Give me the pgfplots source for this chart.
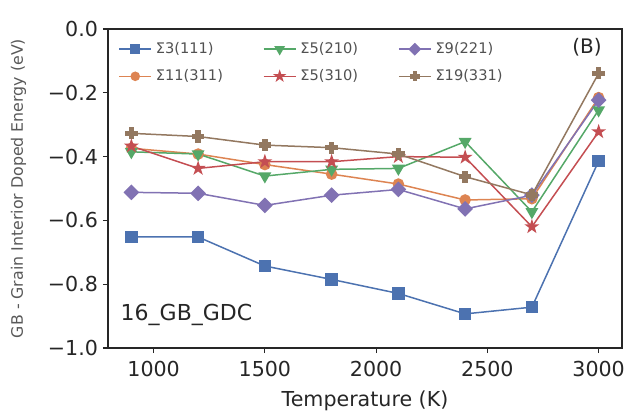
\documentclass[border=0pt]{standalone}
\usepackage{fontspec}
\setmainfont{DejaVu Sans}
\usepackage{pgfplots}
\pgfplotsset{compat=1.18}
\definecolor{cblue}{HTML}{4C72B0}
\definecolor{corange}{HTML}{DD8452}
\definecolor{cgreen}{HTML}{55A868}
\definecolor{cred}{HTML}{C44E52}
\definecolor{cpurple}{HTML}{8172B3}
\definecolor{cbrown}{HTML}{937860}
\definecolor{txt}{HTML}{262626}
\pgfdeclareplotmark{fstar}{%
  \pgfpathmoveto{\pgfpointpolar{90}{1.25\pgfplotmarksize}}%
  \pgfpathlineto{\pgfpointpolar{126}{0.48\pgfplotmarksize}}%
  \pgfpathlineto{\pgfpointpolar{162}{1.25\pgfplotmarksize}}%
  \pgfpathlineto{\pgfpointpolar{198}{0.48\pgfplotmarksize}}%
  \pgfpathlineto{\pgfpointpolar{234}{1.25\pgfplotmarksize}}%
  \pgfpathlineto{\pgfpointpolar{270}{0.48\pgfplotmarksize}}%
  \pgfpathlineto{\pgfpointpolar{306}{1.25\pgfplotmarksize}}%
  \pgfpathlineto{\pgfpointpolar{342}{0.48\pgfplotmarksize}}%
  \pgfpathlineto{\pgfpointpolar{18}{1.25\pgfplotmarksize}}%
  \pgfpathlineto{\pgfpointpolar{54}{0.48\pgfplotmarksize}}%
  \pgfpathclose\pgfusepathqfillstroke}
\pgfdeclareplotmark{fplus}{%
  \pgfpathmoveto{\pgfpoint{0.35\pgfplotmarksize}{\pgfplotmarksize}}%
  \pgfpathlineto{\pgfpoint{0.35\pgfplotmarksize}{0.35\pgfplotmarksize}}%
  \pgfpathlineto{\pgfpoint{\pgfplotmarksize}{0.35\pgfplotmarksize}}%
  \pgfpathlineto{\pgfpoint{\pgfplotmarksize}{-0.35\pgfplotmarksize}}%
  \pgfpathlineto{\pgfpoint{0.35\pgfplotmarksize}{-0.35\pgfplotmarksize}}%
  \pgfpathlineto{\pgfpoint{0.35\pgfplotmarksize}{-\pgfplotmarksize}}%
  \pgfpathlineto{\pgfpoint{-0.35\pgfplotmarksize}{-\pgfplotmarksize}}%
  \pgfpathlineto{\pgfpoint{-0.35\pgfplotmarksize}{-0.35\pgfplotmarksize}}%
  \pgfpathlineto{\pgfpoint{-\pgfplotmarksize}{-0.35\pgfplotmarksize}}%
  \pgfpathlineto{\pgfpoint{-\pgfplotmarksize}{0.35\pgfplotmarksize}}%
  \pgfpathlineto{\pgfpoint{-0.35\pgfplotmarksize}{0.35\pgfplotmarksize}}%
  \pgfpathlineto{\pgfpoint{-0.35\pgfplotmarksize}{\pgfplotmarksize}}%
  \pgfpathclose\pgfusepathqfillstroke}
\begin{document}
\begin{tikzpicture}
\begin{axis}[
  scale only axis, width=257pt, height=159.5pt,
  xmin=795, xmax=3105, ymin=-1, ymax=0,
  xtick={1000,1500,2000,2500,3000},
  xticklabels={1000,1500,2000,2500,3000},
  ytick={-1,-0.8,-0.6,-0.4,-0.2,0},
  yticklabels={−1.0,−0.8,−0.6,−0.4,−0.2,0.0},
  tick align=outside, xtick pos=bottom, ytick pos=left,
  major tick length=2.5pt,
  tick style={line width=0.6pt, color=txt},
  axis line style={line width=0.8pt, color=txt},
  ticklabel style={font=\fontsize{10.3}{11}\selectfont, text=txt},
  xticklabel style={yshift=-0.5pt},
  yticklabel style={xshift=1pt},
  xlabel={Temperature (K)},
  ylabel={GB - Grain Interior Doped Energy (eV)},
  xlabel style={font=\fontsize{10.3}{11}\selectfont, text=txt, yshift=0pt},
  ylabel style={font=\fontsize{7.9}{9}\selectfont, text=black!65, yshift=4pt},
  legend columns=3,
  legend style={draw=none, fill=none, at={(0.012,0.985)}, anchor=north west,
    font=\fontsize{7.3}{8.5}\selectfont, text=txt!80, /tikz/every even column/.append style={column sep=18pt},
    row sep=2.5pt, inner sep=2pt},
  legend image code/.code={\draw[mark repeat=2,mark phase=2] plot coordinates {(0cm,0cm) (0.28cm,0cm) (0.56cm,0cm)};},
  legend cell align=left,
  every axis plot/.append style={line width=0.75pt},
]
\addplot[cblue, mark=square*, mark size=2.7pt, forget plot] coordinates {
(900,-0.652) (1200,-0.652) (1500,-0.743) (1800,-0.785) (2100,-0.829) (2400,-0.893) (2700,-0.872) (3000,-0.414)};
\addplot[corange, mark=*, mark size=2.5pt, forget plot] coordinates {
(900,-0.374) (1200,-0.392) (1500,-0.425) (1800,-0.455) (2100,-0.486) (2400,-0.536) (2700,-0.532) (3000,-0.215)};
\addplot[cgreen, mark=triangle*, mark size=3pt, mark options={rotate=180}, forget plot] coordinates {
(900,-0.385) (1200,-0.392) (1500,-0.461) (1800,-0.44) (2100,-0.437) (2400,-0.353) (2700,-0.573) (3000,-0.254)};
\addplot[cred, mark=fstar, mark size=2.2pt, forget plot] coordinates {
(900,-0.367) (1200,-0.437) (1500,-0.416) (1800,-0.416) (2100,-0.400) (2400,-0.402) (2700,-0.620) (3000,-0.322)};
\addplot[cpurple, mark=square*, mark size=2.4pt, mark options={rotate=45}, forget plot] coordinates {
(900,-0.512) (1200,-0.515) (1500,-0.553) (1800,-0.521) (2100,-0.503) (2400,-0.564) (2700,-0.521) (3000,-0.223)};
\addplot[cbrown, mark=fplus, mark size=2.7pt, forget plot] coordinates {
(900,-0.327) (1200,-0.337) (1500,-0.364) (1800,-0.372) (2100,-0.392) (2400,-0.463) (2700,-0.520) (3000,-0.139)};
\addlegendimage{cblue, mark=square*, mark size=2.1pt}
\addlegendentry{Σ3(111)}
\addlegendimage{cgreen, mark=triangle*, mark size=2.4pt, mark options={rotate=180}}
\addlegendentry{Σ5(210)}
\addlegendimage{cpurple, mark=square*, mark size=1.9pt, mark options={rotate=45}}
\addlegendentry{Σ9(221)}
\addlegendimage{corange, mark=*, mark size=2pt}
\addlegendentry{Σ11(311)}
\addlegendimage{cred, mark=fstar, mark size=1.8pt}
\addlegendentry{Σ5(310)}
\addlegendimage{cbrown, mark=fplus, mark size=2.1pt}
\addlegendentry{Σ19(331)}
\node[anchor=center, font=\fontsize{10}{11}\selectfont, text=txt] at (rel axis cs:0.932,0.944) {(B)};
\node[anchor=west, font=\fontsize{11}{12}\selectfont, text=txt, inner sep=0pt] at (rel axis cs:0.024,0.103) {16\_GB\_GDC};
\end{axis}
\pgfresetboundingbox
\path (current axis.south west) ++(-54pt,-32pt) rectangle ([shift={(3.5pt,14.5pt)}]current axis.north east);
\end{tikzpicture}
\end{document}
